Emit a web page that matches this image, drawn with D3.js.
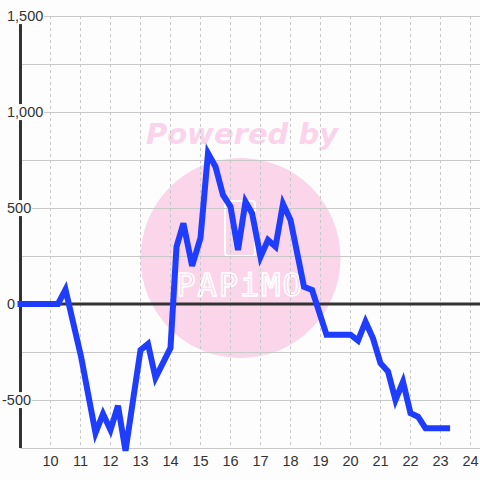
<!DOCTYPE html>
<html>
<head>
<meta charset="utf-8">
<script src="https://cdn.jsdelivr.net/npm/d3@7"></script>
<style>
  html, body { margin: 0; padding: 0; background: #fdfdfd; }
  svg { display: block; font-family: "Liberation Sans", Arial, sans-serif; }
</style>
</head>
<body>
<div id="chart-container"></div>
<script>
// x positions (hours) and values of the blue series
var hours = [8.9, 10.25, 10.5, 11.02, 11.5, 11.75, 12, 12.25, 12.5, 13, 13.25, 13.5, 14,
  14.2, 14.43, 14.72, 15, 15.25, 15.5, 15.75, 16, 16.25, 16.5, 16.72, 17, 17.25, 17.5,
  17.75, 18, 18.45, 18.72, 19.2, 20, 20.25, 20.5, 20.75, 21, 21.25, 21.5, 21.75, 22,
  22.25, 22.5, 23.32];
var values = [0, 0, 75, -275, -672, -572, -656, -530, -765, -240, -208, -385, -229,
  298, 420, 198, 344, 785, 715, 568, 507, 281, 533, 473, 246, 333, 298,
  521, 438, 90, 73, -160, -160, -191, -92, -179, -309, -352, -500, -405, -569,
  -587, -647, -647];

var xTicks = [10, 11, 12, 13, 14, 15, 16, 17, 18, 19, 20, 21, 22, 23, 24];
var yGrid = [-750, -500, -250, 0, 250, 500, 750, 1000, 1250, 1500];
var yLabels = [-500, 0, 500, 1000, 1500];

function visualise() {
  const svgWidth = 480;
  const svgHeight = 480;
  const bg = '#fdfdfd';

  const svg = d3.select('#chart-container')
      .append('svg')
      .attr('width', svgWidth)
      .attr('height', svgHeight);

  svg.append('rect')
      .attr('width', svgWidth)
      .attr('height', svgHeight)
      .attr('fill', bg);

  var x = d3.scaleLinear().domain([9, 24]).range([20.5, 470.5]);
  var y = d3.scaleLinear().domain([-750, 1500]).range([448, 16]);

  // watermark
  const wm = svg.append('g').attr('id', 'watermark');
  wm.append('circle')
      .attr('cx', 240.5).attr('cy', 258).attr('r', 100)
      .attr('fill', '#fbd5ea');
  wm.append('text')
      .attr('x', 242).attr('y', 144)
      .attr('text-anchor', 'middle')
      .attr('font-size', 29)
      .attr('font-weight', 'bold')
      .attr('font-style', 'italic')
      .attr('font-family', 'DejaVu Sans, sans-serif')
      .attr('fill', '#fbd3ea')
      .text('Powered by');
  wm.append('rect')
      .attr('x', 225).attr('y', 201).attr('width', 30).attr('height', 55)
      .attr('rx', 3)
      .attr('fill', 'none')
      .attr('stroke', '#fff')
      .attr('stroke-width', 2);
  wm.append('text')
      .attr('x', 240).attr('y', 296)
      .attr('text-anchor', 'middle')
      .attr('font-size', 32)
      .attr('font-family', 'DejaVu Sans Mono, monospace')
      .attr('letter-spacing', 2)
      .attr('fill', 'none')
      .attr('stroke', '#fff')
      .attr('stroke-width', 1.6)
      .text('PAPiMO');

  // grid
  const grid = svg.append('g').attr('id', 'grid');
  grid.selectAll('.hgrid')
    .data(yGrid.filter(function(d) { return d !== 0; }))
    .enter()
    .append('line')
      .attr('x1', x(9)).attr('x2', svgWidth)
      .attr('y1', function(d) { return Math.round(y(d)) + 0.5; })
      .attr('y2', function(d) { return Math.round(y(d)) + 0.5; })
      .attr('stroke', '#c8c8c8')
      .attr('stroke-width', 1);

  grid.selectAll('.vgrid')
    .data(xTicks)
    .enter()
    .append('line')
      .attr('x1', function(d) { return x(d); })
      .attr('x2', function(d) { return x(d); })
      .attr('y1', y(1500)).attr('y2', y(-750))
      .attr('stroke', '#c8c8c8')
      .attr('stroke-width', 1)
      .attr('stroke-dasharray', '3,3');

  // zero line and y axis line
  svg.append('line')
      .attr('x1', x(9)).attr('x2', svgWidth)
      .attr('y1', y(0)).attr('y2', y(0))
      .attr('stroke', '#333')
      .attr('stroke-width', 3);
  svg.append('line')
      .attr('x1', x(9)).attr('x2', x(9))
      .attr('y1', y(1500)).attr('y2', y(-750))
      .attr('stroke', '#333')
      .attr('stroke-width', 3);

  // y labels with background boxes
  const yl = svg.append('g').attr('id', 'y-labels');
  yLabels.forEach(function(v) {
    const g = yl.append('g');
    const t = g.append('text')
        .attr('x', v < 0 ? 2 : 7)
        .attr('y', y(v))
        .attr('dy', '0.35em')
        .attr('font-size', 14.5)
        .attr('fill', '#333')
        .text(d3.format(',')(v).replace('−', '-'));
    const b = t.node().getBBox();
    g.insert('rect', 'text')
        .attr('x', b.x - 1).attr('y', b.y)
        .attr('width', b.width + 2).attr('height', b.height)
        .attr('fill', bg);
  });

  // x labels
  svg.append('g')
    .selectAll('text')
    .data(xTicks)
    .enter()
    .append('text')
      .attr('x', function(d) { return x(d); })
      .attr('y', 461)
      .attr('dy', '0.35em')
      .attr('text-anchor', 'middle')
      .attr('font-size', 14.5)
      .attr('fill', '#333')
      .text(function(d) { return d; });

  // series
  var line = d3.line()
      .x(function(d) { return x(d[0]); })
      .y(function(d) { return y(d[1]); });

  svg.append('path')
      .datum(d3.zip(hours, values))
      .attr('fill', 'none')
      .attr('stroke', '#1f3dff')
      .attr('stroke-width', 6)
      .attr('d', line);
}

visualise();
</script>
</body>
</html>
